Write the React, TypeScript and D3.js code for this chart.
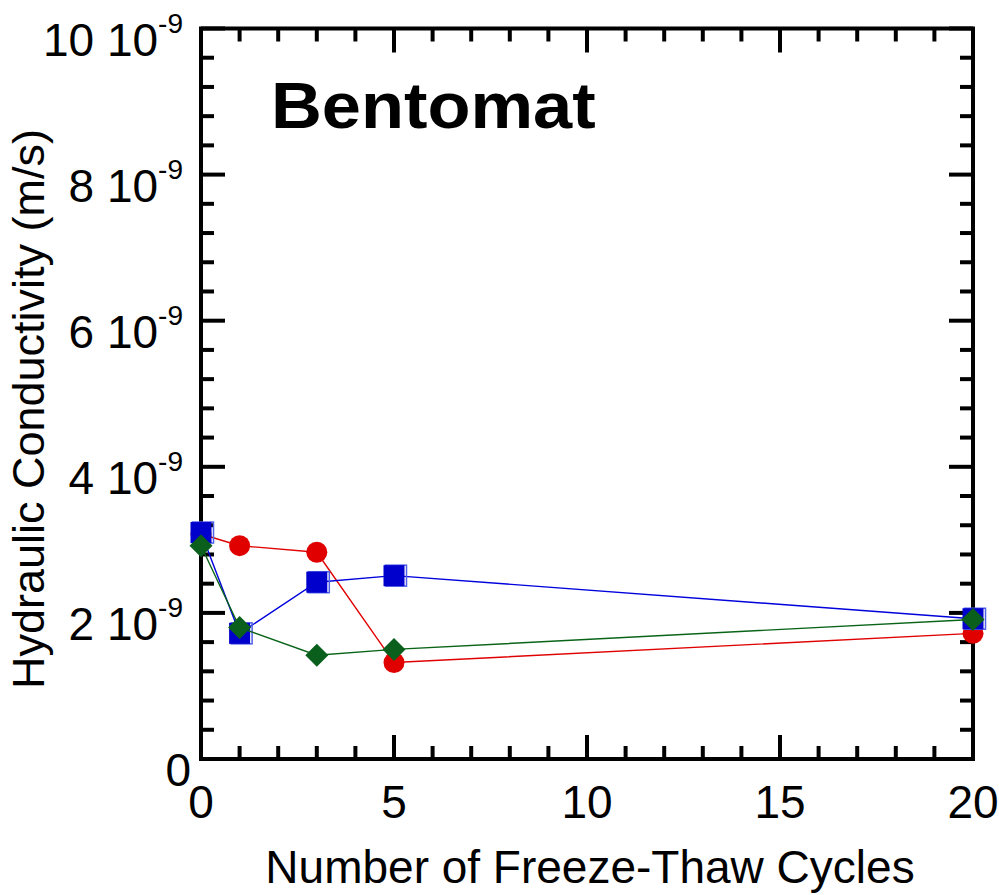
import { useEffect, useRef } from 'react';
import * as d3 from 'd3';

// freeze-thaw cycles and hydraulic conductivity (units of 1e-9 m/s)
const cycles = [0, 1, 3, 5, 20];
const redK = [3.08, 2.92, 2.83, 1.32, 1.72];
const blueK = [3.1, 1.72, 2.42, 2.51, 1.92];
const greenK = [2.92, 1.8, 1.42, 1.5, 1.91];

const xTicks = [0, 5, 10, 15, 20];
const yTicks = [0, 2, 4, 6, 8, 10];

const W = 999;
const H = 895;
const FONT = '"Liberation Sans", Arial, Helvetica, sans-serif';

export default function App() {
  const svgRef = useRef<SVGSVGElement>(null);

  useEffect(() => {
    if (!svgRef.current) return;
    const svg = d3.select(svgRef.current);
    svg.selectAll('*').remove();

    const left = 201, right = 973, top = 28.5, bottom = 759;
    const x = d3.scaleLinear().domain([0, 20]).range([left, right]);
    const y = d3.scaleLinear().domain([0, 10]).range([bottom, top]);

    // ticks, inward, on all four sides
    const tk = svg.append('g').attr('stroke', '#000').attr('stroke-width', 4);
    d3.range(0, 21, 1).forEach(v => {
      const len = v % 5 === 0 ? 24 : 13;
      tk.append('line').attr('x1', x(v)).attr('x2', x(v)).attr('y1', bottom).attr('y2', bottom - len);
      tk.append('line').attr('x1', x(v)).attr('x2', x(v)).attr('y1', top).attr('y2', top + len);
    });
    d3.range(0, 10.01, 0.4).forEach(v => {
      const major = Math.abs(v / 2 - Math.round(v / 2)) < 1e-6;
      const len = major ? 24 : 13;
      tk.append('line').attr('y1', y(v)).attr('y2', y(v)).attr('x1', left).attr('x2', left + len);
      tk.append('line').attr('y1', y(v)).attr('y2', y(v)).attr('x1', right).attr('x2', right - len);
    });

    // frame
    svg.append('rect')
      .attr('x', left).attr('y', top)
      .attr('width', right - left).attr('height', bottom - top)
      .attr('fill', 'none').attr('stroke', '#000').attr('stroke-width', 4);

    // tick labels
    xTicks.forEach(v => {
      svg.append('text')
        .attr('x', x(v)).attr('y', 818)
        .attr('text-anchor', 'middle')
        .style('font-family', FONT).style('font-size', '46px')
        .text(v);
    });
    yTicks.forEach(v => {
      const t = svg.append('text')
        .attr('x', v === 0 ? 191 : 183).attr('y', y(v) + 27)
        .attr('text-anchor', 'end')
        .style('font-family', FONT).style('font-size', '46px');
      if (v === 0) {
        t.text('0');
      } else {
        t.append('tspan').text(`${v} 10`);
        t.append('tspan').attr('dy', -23).style('font-size', '28px').text('-9');
      }
    });

    // axis titles
    svg.append('text')
      .attr('x', 590).attr('y', 883)
      .attr('text-anchor', 'middle')
      .style('font-family', FONT).style('font-size', '46px')
      .text('Number of Freeze-Thaw Cycles');
    svg.append('text')
      .attr('transform', 'translate(44,409) rotate(-90)')
      .attr('text-anchor', 'middle')
      .style('font-family', FONT).style('font-size', '45px')
      .text('Hydraulic Conductivity (m/s)');

    svg.append('text')
      .attr('transform', 'translate(271,128) scale(1.1,1)')
      .style('font-family', FONT).style('font-size', '64px').style('font-weight', 'bold')
      .text('Bentomat');

    const line = d3.line<number>().x((_, i) => x(cycles[i])).y(d => y(d));

    // red circles
    svg.append('path').attr('d', line(redK)).attr('fill', 'none')
      .attr('stroke', '#e00000').attr('stroke-width', 1.4);
    svg.append('g').selectAll('circle').data(redK).join('circle')
      .attr('cx', (_, i) => x(cycles[i])).attr('cy', d => y(d))
      .attr('r', 10.5).attr('fill', '#e00000');

    // blue squares (filled + offset open outline)
    svg.append('path').attr('d', line(blueK)).attr('fill', 'none')
      .attr('stroke', '#0000dd').attr('stroke-width', 1.4);
    const sq = 21;
    const bg = svg.append('g');
    bg.selectAll('rect.o').data(blueK).join('rect').attr('class', 'o')
      .attr('x', (_, i) => x(cycles[i]) - sq / 2 + 2).attr('y', d => y(d) - sq / 2)
      .attr('width', sq).attr('height', sq)
      .attr('fill', 'none').attr('stroke', '#5060e8').attr('stroke-width', 1.5);
    bg.selectAll('rect.f').data(blueK).join('rect').attr('class', 'f')
      .attr('x', (_, i) => x(cycles[i]) - sq / 2).attr('y', d => y(d) - sq / 2)
      .attr('width', sq).attr('height', sq)
      .attr('fill', '#0000cc');

    // green diamonds
    svg.append('path').attr('d', line(greenK)).attr('fill', 'none')
      .attr('stroke', '#0a6418').attr('stroke-width', 1.4);
    const dm = 11.5;
    svg.append('g').selectAll('path').data(greenK).join('path')
      .attr('d', (d, i) => {
        const cx = x(cycles[i]), cy = y(d);
        return `M${cx},${cy - dm}L${cx + dm},${cy}L${cx},${cy + dm}L${cx - dm},${cy}Z`;
      })
      .attr('fill', '#0a5f1c');
  }, []);

  return <svg ref={svgRef} width={W} height={H} style={{ position: 'absolute', left: 0, top: 0, background: '#fff' }} />;
}
